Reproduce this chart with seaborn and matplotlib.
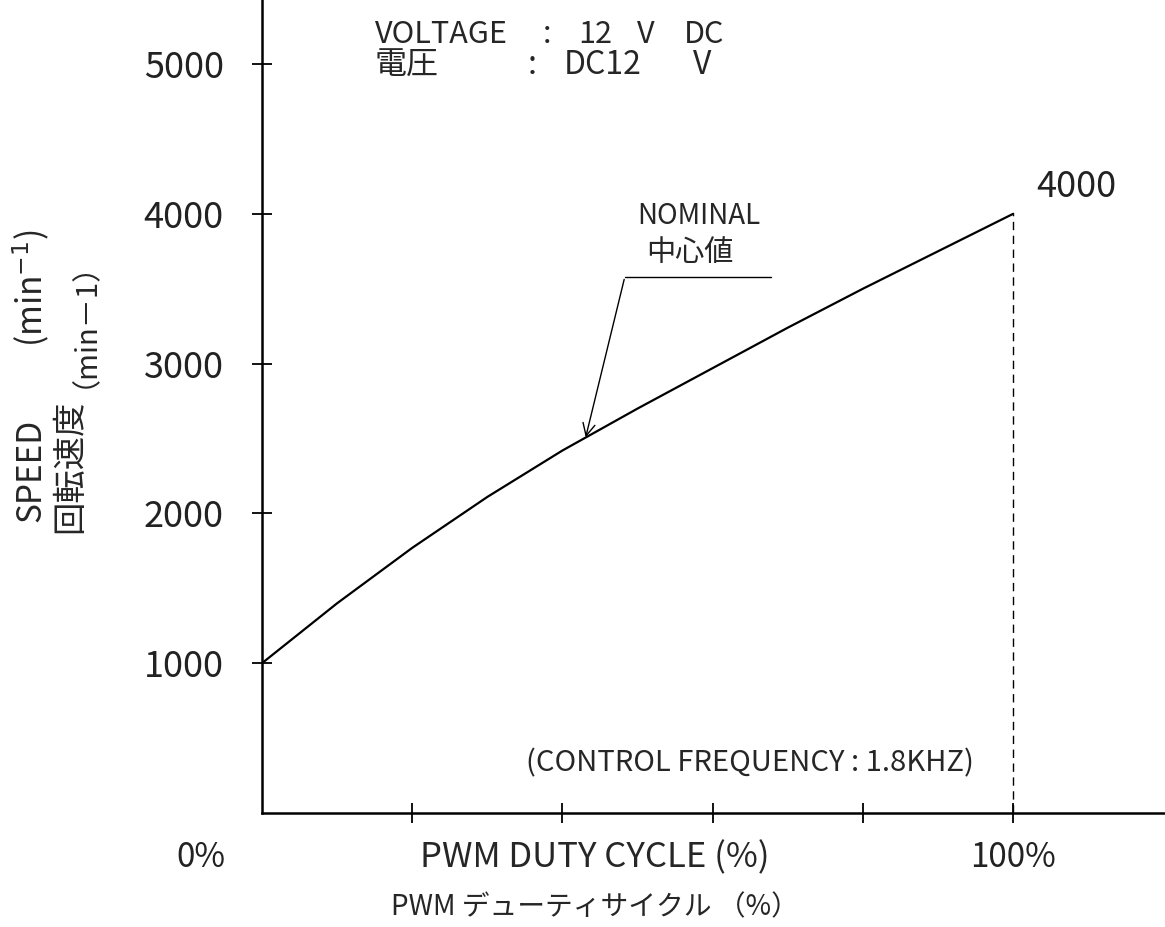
import numpy as np
import seaborn as sns
from matplotlib import pyplot as plt

# values
duty = [0, 10, 20, 30, 40, 50, 60, 70, 80, 90, 100]
speed = [1000, 1400, 1770, 2110, 2420, 2700, 2970, 3240, 3500, 3750, 4000]
y_ticks = [1000, 2000, 3000, 4000, 5000]
x_ticks = [20, 40, 60, 80, 100]

sns.set_style("white")
plt.rcParams['font.family'] = ['Noto Sans CJK JP', 'DejaVu Sans']
plt.rcParams['mathtext.fontset'] = 'dejavusans'

fig = plt.figure(figsize=(11.65, 9.27), dpi=100)
ax = fig.add_axes([262 / 1165, 114 / 927, 903 / 1165, 813 / 927])

sns.lineplot(x=duty, y=speed, ax=ax, color='black', linewidth=1.6)

ax.set_xlim(0, 120.2)
ax.set_ylim(0, 5427)
for s in ['top', 'right']:
    ax.spines[s].set_visible(False)
for s in ['left', 'bottom']:
    ax.spines[s].set_color('black')
    ax.spines[s].set_linewidth(1.8)

ax.set_yticks(y_ticks)
ax.set_yticklabels([str(v) for v in y_ticks], fontsize=26, color='#222222')
ax.set_xticks(x_ticks)
ax.set_xticklabels([])
ax.tick_params(axis='both', direction='inout', length=15, width=1.3, color='black',
               bottom=True, left=True)
ax.tick_params(axis='y', pad=20)

# dashed line at 100%
ax.plot([100, 100], [0, speed[-1]], color='black', linestyle=(0, (6, 4)), linewidth=1.0)
ax.text(103, 4180, "4000", fontsize=26, color='#222222', ha='left', va='center')

# x labels
ax.text(-8.2, -300, "0%", fontsize=24, ha='center', va='center', color='#222222', clip_on=False)
ax.text(100, -300, "100%", fontsize=24, ha='center', va='center', color='#222222', clip_on=False)
ax.text(44.3, -300, "PWM DUTY CYCLE (%)", fontsize=25, ha='center', va='center', clip_on=False)
ax.text(44.3, -630, "PWM デューティサイクル （%）", fontsize=20, ha='center', va='center', clip_on=False)

# y labels
fig.text(31 / 1165, 1 - 470 / 927, "SPEED", rotation=90, fontsize=24, ha='center', va='center')
fig.text(31 / 1165, 1 - 288 / 927, "(min$^{-1}$)", rotation=90, fontsize=24, ha='center', va='center')
fig.text(70 / 1165, 1 - 466 / 927, "回転速度", rotation=90, fontsize=24, ha='center', va='center')
fig.text(70 / 1165, 1 - 310 / 927, "（min－1）", rotation=90, fontsize=21, ha='center', va='center')

# voltage note
for x, s in [(15.0, "VOLTAGE"), (37.4, ":"), (42.1, "12"), (49.9, "V"), (56.1, "DC")]:
    ax.text(x, 5200, s, fontsize=22, ha='left', va='center')
for x, s in [(15.0, "電圧"), (35.3, ":"), (40.1, "DC12"), (57.4, "V")]:
    ax.text(x, 4990, s, fontsize=23, ha='left', va='center')

# nominal annotation
ax.text(58.1, 3987, "NOMINAL", fontsize=20, ha='center', va='center')
ax.text(57.0, 3740, "中心値", fontsize=21, ha='center', va='center')
ax.plot([48.3, 67.8], [3580, 3580], color='black', linewidth=1.0)
ax.annotate("", xy=(43.0, 2490), xytext=(48.3, 3580),
            arrowprops=dict(arrowstyle='->', color='black', lw=1.0, mutation_scale=22))

ax.text(65, 330, "(CONTROL FREQUENCY : 1.8KHZ)", fontsize=21, ha='center', va='center')

fig.savefig("out.png", dpi=100)
